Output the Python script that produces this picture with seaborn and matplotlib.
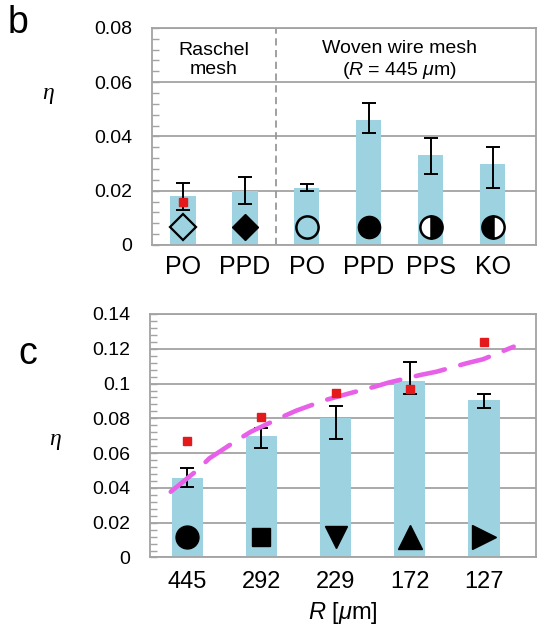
import matplotlib
matplotlib.use('Agg')
import matplotlib.pyplot as plt
from matplotlib.ticker import MultipleLocator, FuncFormatter
import pandas as pd
import seaborn as sns

# Panel b: efficiency per mesh / fibre type
b_mesh = ['Raschel', 'Raschel', 'Woven', 'Woven', 'Woven', 'Woven']
b_fiber = ['PO', 'PPD', 'PO', 'PPD', 'PPS', 'KO']
b_eta = [0.018, 0.020, 0.021, 0.046, 0.033, 0.030]
b_err_lo = [0.0129, 0.015, 0.020, 0.0413, 0.0262, 0.021]
b_err_hi = [0.0229, 0.025, 0.0225, 0.0523, 0.0394, 0.0361]
b_red_idx = [0]
b_red = [0.0158]

# Panel c: efficiency vs mesh opening R
c_R = ['445', '292', '229', '172', '127']
c_eta = [0.0459, 0.0699, 0.0800, 0.1017, 0.0906]
c_err_lo = [0.0407, 0.0628, 0.0681, 0.0938, 0.0858]
c_err_hi = [0.0516, 0.0743, 0.0869, 0.1122, 0.0938]
c_red = [0.0670, 0.0806, 0.0944, 0.0971, 0.1237]
# dashed model curve (x in category units)
c_curve_x = [-0.22, 0.14, 0.30, 0.68, 0.86, 1.27, 1.47, 1.87, 2.19, 2.53, 2.71, 3.14, 3.36, 3.77, 3.99, 4.40]
c_curve_y = [0.0378, 0.0503, 0.0570, 0.0676, 0.0723, 0.0806, 0.0844, 0.0906, 0.0944, 0.0982, 0.1005, 0.1049,
             0.1068, 0.1117, 0.1140, 0.1212]

sns.set_style('white')
plt.rcParams['font.family'] = ['Liberation Sans', 'DejaVu Sans']
plt.rcParams['mathtext.fontset'] = 'custom'
plt.rcParams['mathtext.rm'] = 'Liberation Sans'
plt.rcParams['mathtext.it'] = 'Liberation Sans:italic'
plt.rcParams['text.color'] = 'black'
plt.rcParams['axes.labelcolor'] = 'black'

bar_color = '#9dd3e0'
grid_color = '#a3a3a3'

fig = plt.figure(figsize=(5.37, 6.33), dpi=100)
ax_b = fig.add_axes([0.283, 0.613, 0.715, 0.343])
ax_c = fig.add_axes([0.2793, 0.1193, 0.7187, 0.3847])

df_b = pd.DataFrame({'key': [m + ' ' + f for m, f in zip(b_mesh, b_fiber)], 'eta': b_eta})
df_c = pd.DataFrame({'R': c_R, 'eta': c_eta})

sns.barplot(data=df_b, x='key', y='eta', color=bar_color, saturation=1, width=0.41, linewidth=0, ax=ax_b)
sns.barplot(data=df_c, x='R', y='eta', color=bar_color, saturation=1, width=0.42, linewidth=0, ax=ax_c)


def fmt(v, pos):
    return '0' if abs(v) < 1e-9 else f'{v:g}'


for ax, top, n in [(ax_b, 0.08, len(b_eta)), (ax_c, 0.14, len(c_eta))]:
    ax.set_ylim(0, top)
    ax.set_xlim(-0.5, n - 0.3)
    ax.yaxis.set_major_locator(MultipleLocator(0.02))
    ax.yaxis.set_minor_locator(MultipleLocator(0.004))
    ax.yaxis.set_major_formatter(FuncFormatter(fmt))
    ax.set_axisbelow(True)
    ax.yaxis.grid(True, color=grid_color, lw=1.3)
    for s in ax.spines.values():
        s.set_color(grid_color)
        s.set_linewidth(1.3)
    ax.tick_params(axis='y', which='both', direction='in', color=grid_color, length=5, width=1,
                   labelsize=14, pad=14, left=True, labelcolor='black')
    ax.tick_params(axis='x', length=0, labelcolor='black')
    ax.set_xlabel('')
    ax.set_ylabel('')

# panel b extras
idx_b = list(range(len(b_eta)))
ax_b.errorbar(idx_b, b_eta, yerr=[[v - lo for v, lo in zip(b_eta, b_err_lo)],
                                  [hi - v for v, hi in zip(b_eta, b_err_hi)]],
              fmt='none', ecolor='black', elinewidth=1.4, capsize=5, capthick=1.4)
ax_b.plot(b_red_idx, b_red, 's', color='#e3191c', ms=6, mec='#e3191c')
b_markers = [dict(marker='D', ms=13.5, mfc='none', mec='black', mew=1.6),
             dict(marker='D', ms=13.5, mfc='black', mec='black'),
             dict(marker='o', ms=16, mfc='none', mec='black', mew=1.8),
             dict(marker='o', ms=16, mfc='black', mec='black'),
             dict(marker='o', ms=16, mfc='black', mec='black', mew=1.8, fillstyle='right', markerfacecoloralt='white'),
             dict(marker='o', ms=16, mfc='black', mec='black', mew=1.8, fillstyle='left', markerfacecoloralt='white')]
for i, st in zip(idx_b, b_markers):
    ax_b.plot([i], [0.0066], ls='none', **st)
ax_b.axvline(1.5, color='#999999', ls=(0, (4, 2.5)), lw=1.3)
ax_b.text(0.5, 0.0681, 'Raschel\nmesh', ha='center', va='center', multialignment='center', size=14)
ax_b.text(3.5, 0.0681, 'Woven wire mesh\n($R$ = 445 $\\mu$m)', ha='center', va='center',
          multialignment='center', size=14)
ax_b.set_xticks(idx_b)
ax_b.set_xticklabels(b_fiber)
ax_b.tick_params(axis='x', labelsize=18, pad=7)

# panel c extras
idx_c = list(range(len(c_eta)))
ax_c.errorbar(idx_c, c_eta, yerr=[[v - lo for v, lo in zip(c_eta, c_err_lo)],
                                  [hi - v for v, hi in zip(c_eta, c_err_hi)]],
              fmt='none', ecolor='black', elinewidth=1.4, capsize=5, capthick=1.4)
ax_c.plot(c_curve_x, c_curve_y, color='#e860e8', lw=3.3, dashes=(6.5, 3.5), dash_capstyle='round')
ax_c.plot(idx_c, c_red, 's', color='#e3191c', ms=6, mec='#e3191c')
c_markers = [dict(marker='o', ms=16.5), dict(marker='s', ms=13.5), dict(marker='v', ms=16),
             dict(marker='^', ms=17), dict(marker='>', ms=17)]
for i, st in zip(idx_c, c_markers):
    ax_c.plot([i], [0.012], ls='none', color='black', **st)
ax_c.tick_params(axis='x', labelsize=17, pad=10)
ax_c.set_xlabel('$R$ [$\\mu$m]', size=17, labelpad=5)

# eta labels and panel letters
fig.text(48 / 537, 1 - 93 / 633, 'η', family='Liberation Serif', style='italic', size=17, ha='center', va='center')
fig.text(55 / 537, 1 - 440 / 633, 'η', family='Liberation Serif', style='italic', size=17, ha='center', va='center')
fig.text(18 / 537, 1 - 23 / 633, 'b', size=27, ha='center', va='center')
fig.text(28 / 537, 1 - 354 / 633, 'c', size=27, ha='center', va='center')

fig.savefig('out.png', dpi=100)
